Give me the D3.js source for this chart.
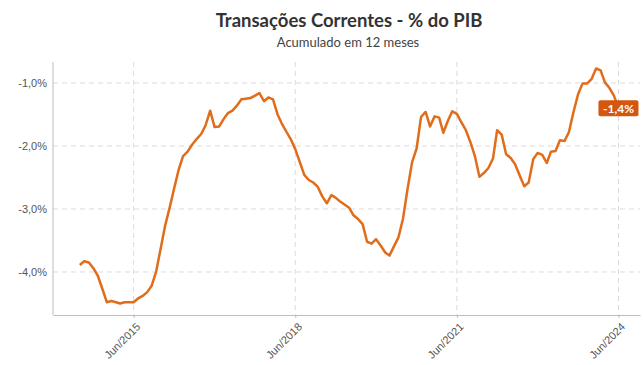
<!DOCTYPE html>
<html>
<head>
<meta charset="utf-8">
<script src="https://cdn.jsdelivr.net/npm/d3@7"></script>
<style>
	body { margin: 0; background: #fff; }
	svg { display: block; font-family: Lato, "Open Sans", sans-serif; }
	.grid line { stroke: #dcdcdc; stroke-dasharray: 5,4; }
	.axis text { fill: #555; font-size: 11px; }
	.axis path, .axis line { stroke: #bdbdbd; }
</style>
</head>
<body>
<svg width="643" height="365"></svg>
<script>
// Monthly series, 12-month accumulated current account (% of GDP)
const startMonth = "2014-06";
const values = [
	-3.89, -3.83, -3.85, -3.94, -4.06, -4.27, -4.48, -4.46, -4.48, -4.50, -4.48, -4.48,
	-4.48, -4.42, -4.38, -4.32, -4.22, -3.99, -3.63, -3.26, -2.97, -2.68, -2.38, -2.16,
	-2.09, -1.98, -1.89, -1.81, -1.67, -1.44, -1.70, -1.69, -1.57, -1.48, -1.44, -1.36,
	-1.26, -1.25, -1.24, -1.20, -1.16, -1.29, -1.23, -1.26, -1.50, -1.64, -1.77, -1.89,
	-2.05, -2.25, -2.46, -2.54, -2.58, -2.65, -2.80, -2.91, -2.78, -2.82, -2.88, -2.93,
	-2.98, -3.10, -3.16, -3.24, -3.52, -3.55, -3.48, -3.58, -3.69, -3.74, -3.59, -3.45,
	-3.15, -2.69, -2.26, -2.04, -1.54, -1.46, -1.69, -1.53, -1.55, -1.79, -1.60, -1.45,
	-1.49, -1.62, -1.75, -1.94, -2.16, -2.49, -2.43, -2.35, -2.20, -1.75, -1.82, -2.13,
	-2.19, -2.29, -2.47, -2.64, -2.58, -2.21, -2.11, -2.14, -2.27, -2.09, -2.08, -1.91,
	-1.92, -1.78, -1.46, -1.18, -1.01, -1.01, -0.94, -0.77, -0.80, -0.99, -1.08, -1.20,
	-1.40
];
const xTicks = ["2015-06", "2018-06", "2021-06", "2024-06"];
const yTicks = [-1, -2, -3, -4];
const lastLabel = "-1,4%";

const parseMonth = d3.timeParse("%Y-%m");
const start = parseMonth(startMonth);
const data = values.map(function(v, i) {
	return { date: d3.timeMonth.offset(start, i), value: v };
});

const svg = d3.select("svg");
const pLeft = 53, pRight = 640, pTop = 62, pBottom = 315;

const x = d3.scaleTime()
	.domain([new Date(2013, 11, 1), new Date(2024, 9, 25)])
	.range([pLeft, pRight]);

const y = d3.scaleLinear()
	.domain([-4.683, -0.667])
	.range([pBottom, pTop]);

const fmtY = function(d) { return d3.format(".1f")(d).replace(".", ",").replace("−", "-") + "%"; };
const fmtX = d3.timeFormat("%b/%Y");

// grid
svg.append("g")
	.attr("class", "grid")
	.selectAll("line")
	.data(yTicks)
	.enter().append("line")
	.attr("x1", pLeft).attr("x2", pRight)
	.attr("y1", function(d) { return y(d); })
	.attr("y2", function(d) { return y(d); });

svg.append("g")
	.attr("class", "grid")
	.selectAll("line")
	.data(xTicks.map(parseMonth))
	.enter().append("line")
	.attr("x1", function(d) { return x(d); })
	.attr("x2", function(d) { return x(d); })
	.attr("y1", pTop).attr("y2", pBottom);

// axes
const yAxis = svg.append("g")
	.attr("class", "axis")
	.attr("transform", "translate(" + pLeft + ",0)")
	.call(d3.axisLeft(y).tickValues(yTicks).tickSize(0).tickPadding(6).tickFormat(fmtY));
yAxis.select(".domain").attr("d", "M0," + pTop + "V" + pBottom);

const xAxis = svg.append("g")
	.attr("class", "axis")
	.attr("transform", "translate(0," + pBottom + ")")
	.call(d3.axisBottom(x).tickValues(xTicks.map(parseMonth)).tickSize(3).tickSizeOuter(0).tickFormat(fmtX));

xAxis.selectAll("text")
	.attr("text-anchor", "end")
	.attr("dx", "-0.1em")
	.attr("dy", "0.45em")
	.attr("transform", "translate(0,4) rotate(-45)");

// line
const line = d3.line()
	.x(function(d) { return x(d.date); })
	.y(function(d) { return y(d.value); });

svg.append("path")
	.datum(data)
	.attr("fill", "none")
	.attr("stroke", "#e16d1b")
	.attr("stroke-width", 2.5)
	.attr("stroke-linejoin", "round")
	.attr("d", line);

// last value label
const last = data[data.length - 1];
const lab = svg.append("g")
	.attr("transform", "translate(" + x(last.date) + "," + y(last.value) + ")");
lab.append("rect")
	.attr("x", -20).attr("y", -8)
	.attr("width", 40).attr("height", 16)
	.attr("rx", 2)
	.attr("fill", "#d4570f");
lab.append("text")
	.attr("text-anchor", "middle")
	.attr("dy", "0.36em")
	.attr("fill", "#fff")
	.style("font-size", "12px")
	.style("font-weight", "bold")
	.text(lastLabel);

// titles
svg.append("text")
	.attr("x", 349).attr("y", 27)
	.attr("text-anchor", "middle")
	.attr("fill", "#333")
	.style("font-size", "18.5px")
	.style("font-weight", "bold")
	.text("Transações Correntes - % do PIB");

svg.append("text")
	.attr("x", 348).attr("y", 47)
	.attr("text-anchor", "middle")
	.attr("fill", "#444")
	.style("font-size", "13px")
	.text("Acumulado em 12 meses");
</script>
</body>
</html>
